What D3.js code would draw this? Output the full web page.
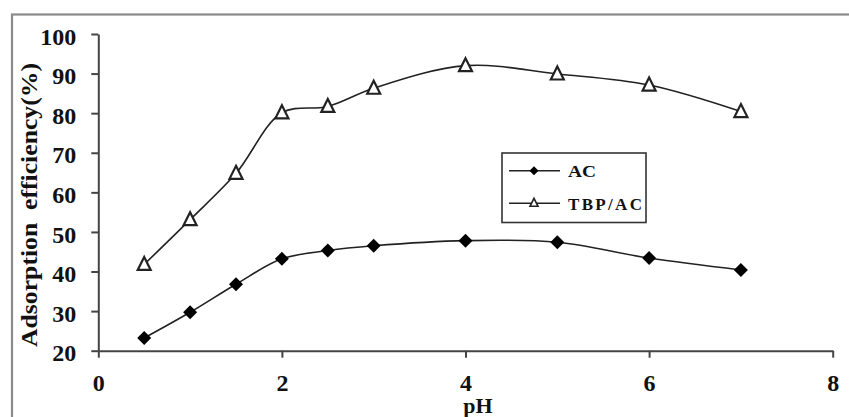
<!DOCTYPE html>
<html><head><meta charset="utf-8">
<script src="https://cdn.jsdelivr.net/npm/d3@7"></script>
<style>
html,body{margin:0;padding:0;background:#fff;}
svg{display:block;}
text{font-family:"Liberation Serif","Times New Roman",serif;font-weight:bold;fill:#111;}
</style></head>
<body>
<script>
const pH = [0.5, 1, 1.5, 2, 2.5, 3, 4, 5, 6, 7];
const acValues = [23.2, 29.7, 36.8, 43.2, 45.3, 46.5, 47.8, 47.4, 43.4, 40.4];
const tbpValues = [41.8, 53.1, 64.8, 80.1, 81.7, 86.3, 92.0, 89.9, 87.1, 80.4];
const xTicks = [0, 2, 4, 6, 8];
const yTicks = [20, 30, 40, 50, 60, 70, 80, 90, 100];
const seriesNames = ["AC", "TBP/AC"];
const xTitle = "pH";
const yTitle = "Adsorption  efficiency(%)";

const W = 849, H = 417;
const svg = d3.select("body").append("svg").attr("width", W).attr("height", H);

// outer frame
svg.append("rect").attr("x", 12).attr("y", 14.5).attr("width", W + 20).attr("height", H + 20)
  .attr("fill", "none").attr("stroke", "#8a8a8a").attr("stroke-width", 2.2);

const x = d3.scaleLinear().domain([0, 8]).range([98.3, 832.7]);
const y = d3.scaleLinear().domain([20, 100]).range([350.7, 34]);

const axisColor = "#444";
const gx = svg.append("g").attr("transform", `translate(0,${y(20)})`)
  .call(d3.axisBottom(x).tickValues(xTicks).tickSize(7).tickSizeOuter(0).tickPadding(16));
const gy = svg.append("g").attr("transform", `translate(${x(0)},0)`)
  .call(d3.axisLeft(y).tickValues(yTicks).tickSize(7).tickSizeOuter(0).tickPadding(15));
[gx, gy].forEach(g => {
  g.select(".domain").attr("stroke", axisColor).attr("stroke-width", 2);
  g.selectAll(".tick line").attr("stroke", axisColor).attr("stroke-width", 2);
  g.selectAll(".tick text").attr("fill", "#111")
    .style("font-family", '"Liberation Serif",serif').style("font-weight", "bold").style("font-size", "24px");
});
gy.selectAll(".tick text").attr("dy", "0.42em");
gx.selectAll(".tick text").attr("dy", "0.71em");

svg.append("text").attr("x", 478).attr("y", 413).attr("text-anchor", "middle")
  .style("font-size", "22px").text(xTitle);
svg.append("text").attr("transform", `translate(37,205) rotate(-90)`).attr("text-anchor", "middle")
  .style("font-size", "23px").style("white-space", "pre")
  .attr("textLength", 284).attr("lengthAdjust", "spacingAndGlyphs").text(yTitle);

// markers
const diamond = { draw(ctx, size) { const r = Math.sqrt(size) / 2; ctx.moveTo(0, -r); ctx.lineTo(r, 0); ctx.lineTo(0, r); ctx.lineTo(-r, 0); ctx.closePath(); } };
const tri = { draw(ctx, size) { const r = Math.sqrt(size) / 2; ctx.moveTo(0, -r); ctx.lineTo(r, r); ctx.lineTo(-r, r); ctx.closePath(); } };

const line = d3.line().x(d => x(d[0])).y(d => y(d[1])).curve(d3.curveCatmullRom.alpha(0.5));
const acData = pH.map((p, i) => [p, acValues[i]]);
const tbpData = pH.map((p, i) => [p, tbpValues[i]]);

svg.append("path").datum(acData).attr("d", line).attr("fill", "none").attr("stroke", "#222").attr("stroke-width", 1.6);
svg.append("path").datum(tbpData).attr("d", line).attr("fill", "none").attr("stroke", "#222").attr("stroke-width", 1.6);

svg.selectAll(".ac").data(acData).enter().append("path")
  .attr("transform", d => `translate(${x(d[0])},${y(d[1])})`)
  .attr("d", d3.symbol().type(diamond).size(196)).attr("fill", "#000");
svg.selectAll(".tbp").data(tbpData).enter().append("path")
  .attr("transform", d => `translate(${x(d[0])},${y(d[1]) - 1})`)
  .attr("d", d3.symbol().type(tri).size(169)).attr("fill", "#fff").attr("stroke", "#222").attr("stroke-width", 2.2);

// legend
const lg = svg.append("g");
lg.append("rect").attr("x", 502).attr("y", 153).attr("width", 144).attr("height", 69.5)
  .attr("fill", "#fff").attr("stroke", "#333").attr("stroke-width", 1.6);
const legY = [170.7, 203.3];
seriesNames.forEach((name, i) => {
  lg.append("line").attr("x1", 509).attr("x2", 560).attr("y1", legY[i]).attr("y2", legY[i])
    .attr("stroke", "#222").attr("stroke-width", 1.6);
  if (i === 0) {
    lg.append("path").attr("transform", `translate(534,${legY[i]})`)
      .attr("d", d3.symbol().type(diamond).size(81)).attr("fill", "#000");
  } else {
    lg.append("path").attr("transform", `translate(534,${legY[i] - 1})`)
      .attr("d", d3.symbol().type(tri).size(64)).attr("fill", "#fff").attr("stroke", "#222").attr("stroke-width", 1.6);
  }
  const t = lg.append("text").attr("x", 568).attr("y", legY[i] + 6.5).style("font-size", "17px").text(name);
  if (i === 1) t.attr("textLength", 74).attr("lengthAdjust", "spacing");
  else t.attr("textLength", 28).attr("lengthAdjust", "spacingAndGlyphs");
});
</script>
</body></html>
